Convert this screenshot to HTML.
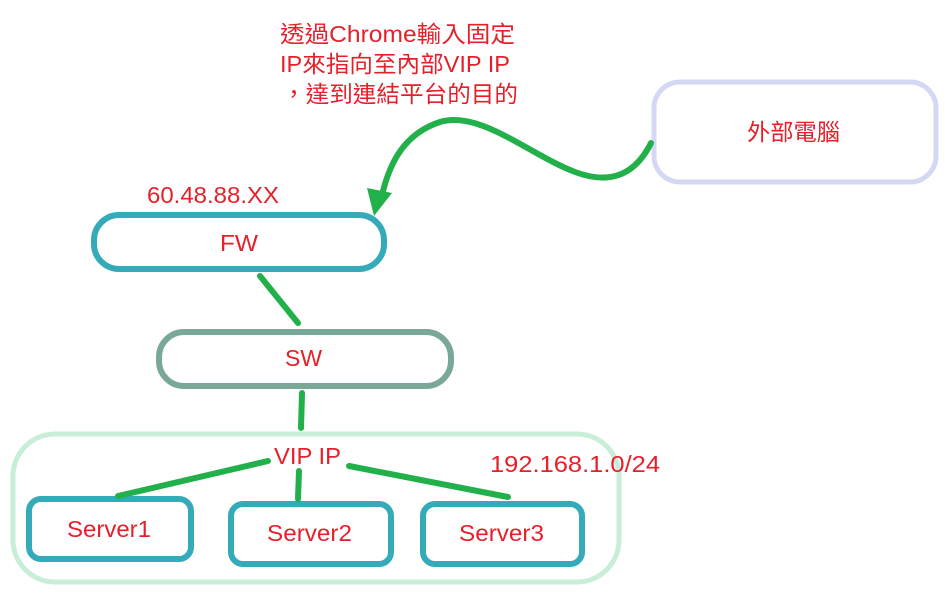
<!DOCTYPE html>
<html><head><meta charset="utf-8"><style>
html,body{margin:0;padding:0;background:#fff;}
svg text{font-family:"Liberation Sans","Noto Sans CJK TC",sans-serif;fill:#e5202a;}
</style></head><body>
<svg width="945" height="598" viewBox="0 0 945 598" xmlns="http://www.w3.org/2000/svg">
<rect x="0" y="0" width="945" height="598" fill="#fff"/>
<rect x="13" y="434" width="606" height="148" rx="42" fill="none" stroke="#c9eed8" stroke-width="5"/>
<rect x="654" y="82" width="282" height="100" rx="26" fill="none" stroke="#d5d8f5" stroke-width="5"/>
<rect x="94" y="215" width="290" height="54" rx="25" fill="#fff" stroke="#35aab8" stroke-width="6"/>
<rect x="159" y="332" width="292" height="54" rx="25" fill="#fff" stroke="#7aa898" stroke-width="6"/>
<rect x="29" y="499" width="162" height="60" rx="12" fill="#fff" stroke="#35aab8" stroke-width="6"/>
<rect x="231" y="504" width="160" height="60" rx="12" fill="#fff" stroke="#35aab8" stroke-width="6"/>
<rect x="423" y="504" width="159" height="60" rx="12" fill="#fff" stroke="#35aab8" stroke-width="6"/>
<g stroke="#22b04a" stroke-width="6" stroke-linecap="round" fill="none">
<line x1="260" y1="276" x2="298" y2="323"/>
<line x1="302" y1="393" x2="301" y2="428"/>
<line x1="118" y1="496" x2="268" y2="461"/>
<line x1="299" y1="471" x2="298" y2="499"/>
<line x1="349" y1="466" x2="508" y2="497"/>
<path d="M651,143 C635,175 610,185 575,172 C530,155 480,110 440,122 C400,135 388,170 382,195"/>
</g>
<polygon points="367,188 392,193 374,216" fill="#22b04a"/>
<g font-size="23">
<text x="280" y="42" textLength="235" lengthAdjust="spacingAndGlyphs">透過Chrome輸入固定</text>
<text x="280" y="72" textLength="230" lengthAdjust="spacingAndGlyphs">IP來指向至內部VIP IP</text>
<text x="282" y="102" textLength="236" lengthAdjust="spacingAndGlyphs">，達到連結平台的目的</text>
</g>
<g font-size="23">
<text x="747" y="140" textLength="93" lengthAdjust="spacingAndGlyphs">外部電腦</text>
<text x="220" y="251" textLength="38" lengthAdjust="spacingAndGlyphs">FW</text>
<text x="285" y="366" textLength="37" lengthAdjust="spacingAndGlyphs">SW</text>
<text x="274" y="464" textLength="67" lengthAdjust="spacingAndGlyphs">VIP IP</text>
<text x="67" y="537" textLength="84" lengthAdjust="spacingAndGlyphs">Server1</text>
<text x="267" y="541" textLength="85" lengthAdjust="spacingAndGlyphs">Server2</text>
<text x="459" y="541" textLength="85" lengthAdjust="spacingAndGlyphs">Server3</text>
<text x="147" y="203" textLength="132" lengthAdjust="spacingAndGlyphs">60.48.88.XX</text>
<text x="490" y="472" textLength="170" lengthAdjust="spacingAndGlyphs">192.168.1.0/24</text>
</g>
</svg>
</body></html>
